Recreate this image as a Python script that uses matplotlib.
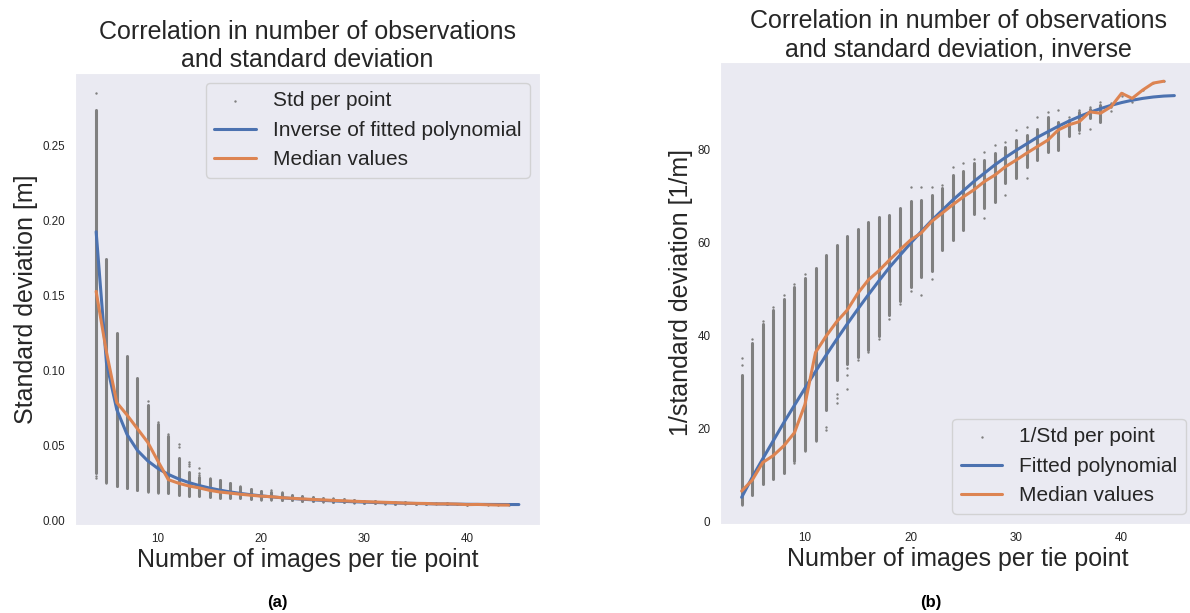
import numpy as np
import matplotlib
matplotlib.use("Agg")
import matplotlib.pyplot as plt
import seaborn as sns

sns.set_style("dark")
plt.rcParams['font.family'] = ['Liberation Sans', 'DejaVu Sans']

# Number of images per tie point for the fitted curve
fit_n = np.arange(4, 46)
# Fitted polynomial of 1/std [1/m]
fit_inv = [5.2, 9.5, 13.5, 17.4, 21.3, 25.0, 28.7, 32.3, 35.8, 39.2, 42.5,
           45.7, 48.8, 51.8, 54.7, 57.3, 59.9, 62.4, 64.8, 67.0, 69.2, 71.2,
           73.2, 75.0, 76.8, 78.4, 79.9, 81.3, 82.7, 83.9, 85.1, 86.2, 87.2,
           88.1, 88.9, 89.6, 90.2, 90.7, 91.1, 91.4, 91.6, 91.7]

# Median of 1/std per number of images [1/m]
median_n = np.arange(4, 45)
median_inv = [6.55, 8.9, 12.7, 14.2, 16.3, 19.1, 25.2, 36.4, 39.9, 43.0, 45.5,
              49.1, 52.0, 54.0, 56.3, 58.5, 60.6, 62.1, 64.6, 66.4, 68.2, 69.9,
              71.4, 73.2, 74.6, 76.4, 77.8, 79.3, 80.7, 82.1, 84.3, 85.4, 86.1,
              88.2, 87.9, 89.3, 92.2, 91.1, 92.9, 94.4, 94.8]

# Per-point values, grouped by number of images: the densely filled band
# of each column (low/high, in 1/m) plus the scattered points around it
col_n = list(range(4, 45))
band_low = [3.66, 5.75, 8.0, 9.1, 10.5, 13.0, 15.5, 17.6, 24.0, 30.5, 34.0,
            35.5, 37.0, 40.0, 44.5, 47.5, 50.5, 52.7, 54.0, 58.5, 60.7, 62.7,
            66.3, 67.4, 68.8, 72.8, 73.9, 76.4, 77.8, 79.6, 80.0, 82.9, 84.3,
            86.8, 86.1, np.nan, np.nan, np.nan, np.nan, np.nan, np.nan]
band_high = [31.6, 38.5, 42.5, 45.5, 48.0, 50.5, 52.5, 54.5, 57.3, 59.5, 61.5,
             63.0, 64.5, 65.5, 66.0, 67.5, 69.0, 69.2, 70.3, 71.8, 74.7, 75.4,
             77.1, 77.8, 79.3, 80.7, 82.1, 83.2, 84.6, 87.2, 86.1, 86.5, 88.2,
             88.9, 89.7, np.nan, np.nan, np.nan, np.nan, np.nan, np.nan]
loose_points = [
    [3.51, 33.7, 35.1], [39.2], [43.2], [46.2], [48.8], [12.5, 51.2],
    [15.2, 53.2], [17.3], [19.6, 20.4], [25.6, 26.6, 27.4], [28.6, 31.5, 33.0],
    [34.8], [36.4], [39.2], [43.5], [46.8], [49.6, 72.0], [48.7, 72.1],
    [52.2, 72.1], [72.4], [76.4], [77.1], [78.1], [65.3, 79.6], [81.1],
    [70.3, 81.8], [84.3], [73.9, 85.0], [87.2], [88.2], [88.6], [87.2],
    [83.6, 88.6], [84.6, 89.3], [90.4], [88.4, 89.3, 90.0], [91.6, 92.2],
    [90.4, 91.1], [92.9], [94.4], [94.8],
]

fit_inv = np.array(fit_inv)
median_inv = np.array(median_inv)
band_low = np.array(band_low)
band_high = np.array(band_high)
loose_x = np.concatenate([[n] * len(p) for n, p in zip(col_n, loose_points)])
loose_inv = np.concatenate([np.array(p, dtype=float) for p in loose_points])

BLUE = "#4c72b0"
ORANGE = "#dd8452"
GRAY = "#808080"
TEXT = "#262626"

fig = plt.figure(figsize=(11.9, 6.13), dpi=100)
ax1 = fig.add_axes([75 / 1190, 88 / 613, 465 / 1190, 452.3 / 613])
ax2 = fig.add_axes([720 / 1190, 89 / 613, 476 / 1190, 462.3 / 613])

has_band = ~np.isnan(band_low)
cols = np.array(col_n)

# (a) standard deviation
ax1.vlines(cols[has_band], 1 / band_high[has_band], 1 / band_low[has_band],
           color=GRAY, lw=2.2, capstyle="round")
ax1.scatter(loose_x, 1 / loose_inv, s=3, color=GRAY, linewidths=0,
            label="Std per point")
ax1.plot(fit_n, 1 / fit_inv, color=BLUE, lw=2.2,
         label="Inverse of fitted polynomial")
ax1.plot(median_n, 1 / median_inv, color=ORANGE, lw=2.2, label="Median values")
ax1.set_xlim(1.95, 47.05)
ax1.set_ylim(-0.0027, 0.2981)
ax1.set_yticks([0.0, 0.05, 0.10, 0.15, 0.20, 0.25])
ax1.set_yticklabels(["0.00", "0.05", "0.10", "0.15", "0.20", "0.25"])
ax1.set_xticks([10, 20, 30, 40])
ax1.set_title("Correlation in number of observations\nand standard deviation",
              fontsize=18, color=TEXT, pad=4)
ax1.set_xlabel("Number of images per tie point", fontsize=18, color=TEXT,
               labelpad=2)
ax1.set_ylabel("Standard deviation [m]", fontsize=18, color=TEXT, labelpad=3)
ax1.legend(loc="upper right", fontsize=15)

# (b) inverse of standard deviation
ax2.vlines(cols[has_band], band_low[has_band], band_high[has_band],
           color=GRAY, lw=2.2, capstyle="round")
ax2.scatter(loose_x, loose_inv, s=3, color=GRAY, linewidths=0,
            label="1/Std per point")
ax2.plot(fit_n, fit_inv, color=BLUE, lw=2.2, label="Fitted polynomial")
ax2.plot(median_n, median_inv, color=ORANGE, lw=2.2, label="Median values")
ax2.set_xlim(1.95, 47.05)
ax2.set_ylim(-0.54, 99.0)
ax2.set_yticks([0, 20, 40, 60, 80])
ax2.set_xticks([10, 20, 30, 40])
ax2.set_title("Correlation in number of observations\nand standard deviation, inverse",
              fontsize=18, color=TEXT, pad=4)
ax2.set_xlabel("Number of images per tie point", fontsize=18, color=TEXT,
               labelpad=2)
ax2.set_ylabel("1/standard deviation [1/m]", fontsize=18, color=TEXT, labelpad=3)
ax2.legend(loc="lower right", fontsize=15)

for ax in (ax1, ax2):
    ax.tick_params(axis="both", labelsize=8.4, colors=TEXT, length=0)
    ax.tick_params(axis="y", pad=7)
    ax.tick_params(axis="x", pad=6)

fig.text(277 / 1190, 1 - 603 / 613, "(a)", fontsize=12, fontweight="bold",
         ha="center", va="center", color="black")
fig.text(931 / 1190, 1 - 603 / 613, "(b)", fontsize=12, fontweight="bold",
         ha="center", va="center", color="black")

fig.savefig("out.png", dpi=100)
